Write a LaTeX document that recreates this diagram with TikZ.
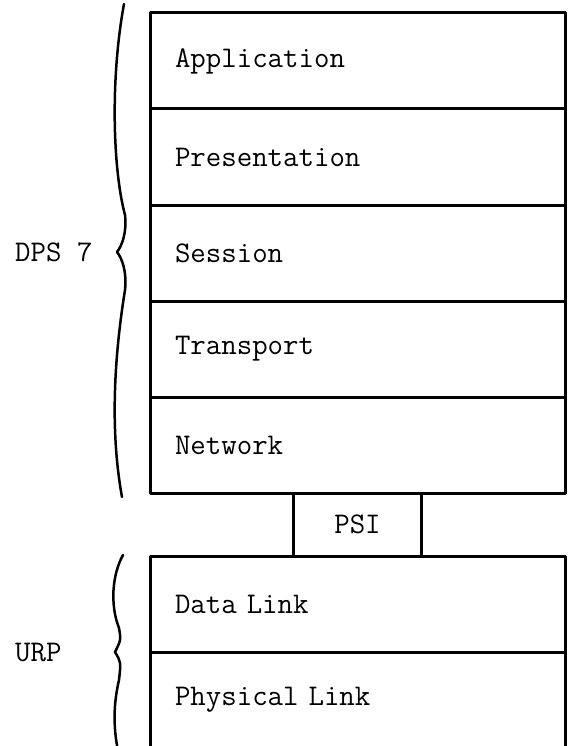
\documentclass[tikz,border=0pt]{standalone}
\usepackage{tikz}
\usetikzlibrary{positioning}

\begin{document}
\begin{tikzpicture}[x=1pt,y=-1pt,line join=round,
  layer node/.style={draw,line width=3pt,outer sep=0pt,minimum height=96pt,
    text width=365pt,inner xsep=25pt,align=left,
    font=\fontsize{30}{36}\selectfont\ttfamily},
  psi node/.style={draw,line width=3pt,outer sep=0pt,minimum height=63pt,
    minimum width=128pt,font=\fontsize{30}{36}\selectfont\ttfamily},
  side label/.style={anchor=west,inner sep=0pt,font=\fontsize{30}{36}\selectfont\ttfamily},
  brace line/.style={line width=2.5pt,line cap=round}]
  \clip (0,0) rectangle (569,746);

  \node[layer node,anchor=north] (app) at (357.5,13) {Application};
  \node[layer node,below=0pt of app] (pres) {Presentation};
  \node[layer node,below=0pt of pres] (sess) {Session};
  \node[layer node,below=0pt of sess] (trans) {Transport};
  \node[layer node,below=0pt of trans] (net) {Network};
  \node[psi node,below=0pt of net] (psi) {PSI};
  \node[layer node,below=0pt of psi] (dl) {Data Link};
  \node[layer node,below=0pt of dl] (phys) {Physical Link};

  % braces
  \coordinate (uptip) at (117,252);
  \coordinate (lowtip) at (115,652);
  \draw[brace line] (124,4) .. controls (110,80) and (113,170) .. (125,215)
    .. controls (127,232) and (122,246) .. (uptip)
    .. controls (122,258) and (127,272) .. (125,290)
    .. controls (117,340) and (108,420) .. (122,497);
  \draw[brace line] (123,555) .. controls (112,575) and (110,605) .. (119,628)
    .. controls (121,640) .. (lowtip)
    .. controls (121,662) .. (119,680)
    .. controls (112,710) and (114,735) .. (120,760);

  \node[side label] (dps) at (15,252) {DPS 7};
  \node[side label] (urp) at (15,653) {URP};
\end{tikzpicture}
\end{document}
